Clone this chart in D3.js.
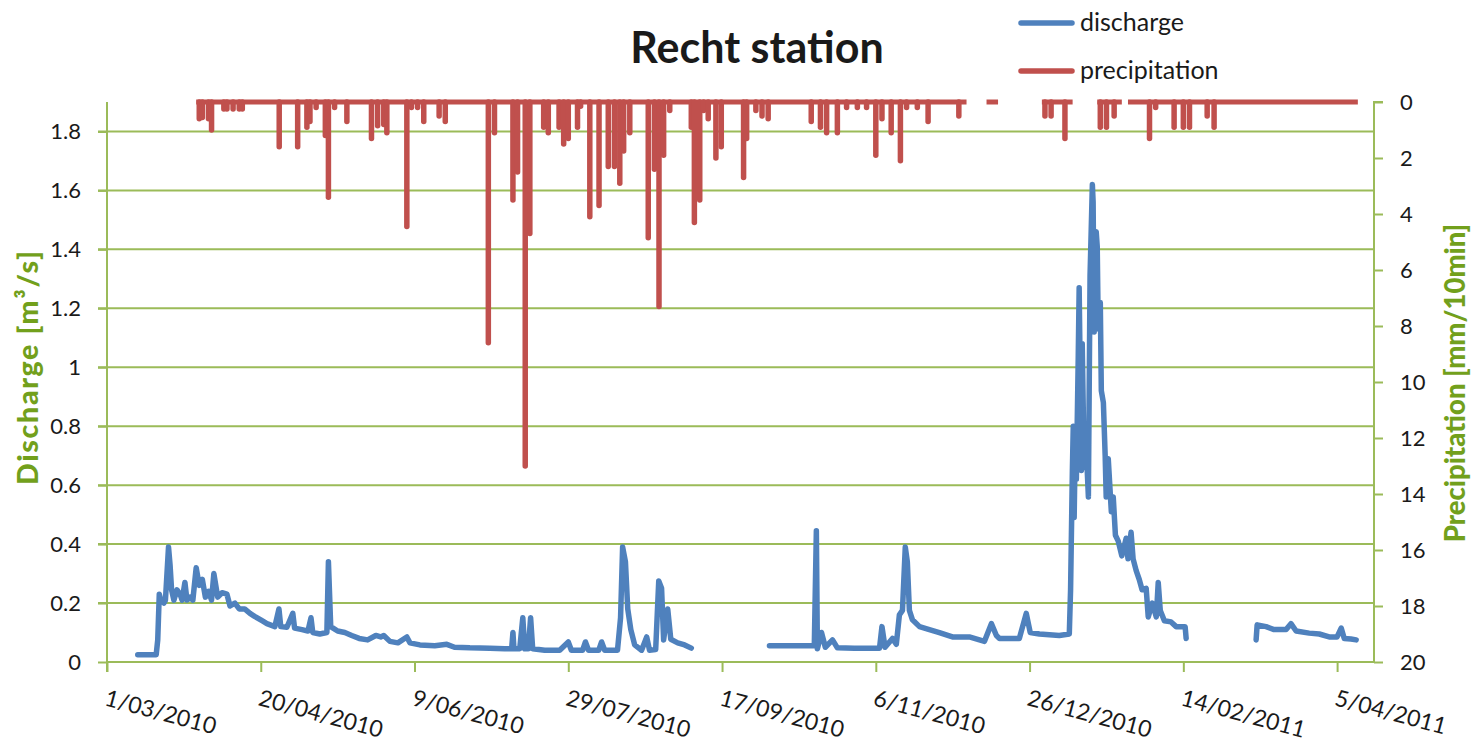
<!DOCTYPE html>
<html><head><meta charset="utf-8">
<script src="https://cdn.jsdelivr.net/npm/d3@7"></script>
<style>body{margin:0;background:#fff} svg{display:block}</style>
</head><body>
<svg id="chart" width="1477" height="743"></svg>
<script>
// ---------- data ----------
const chartTitle = "Recht station";
const dischargeLabel = "discharge";
const precipLabel = "precipitation";
const leftAxisTitle = "Discharge [m³/s]";
const rightAxisTitle = "Precipitation [mm/10min]";

const xTickDates  = ["2010-03-01","2010-04-20","2010-06-09","2010-07-29","2010-09-17","2010-11-06","2010-12-26","2011-02-14","2011-04-05"];
const xTickLabels = ["1/03/2010","20/04/2010","9/06/2010","29/07/2010","17/09/2010","6/11/2010","26/12/2010","14/02/2011","5/04/2011"];
const dischargeTicks = [0,0.2,0.4,0.6,0.8,1,1.2,1.4,1.6,1.8];
const dischargeTickLabels = ["0","0.2","0.4","0.6","0.8","1","1.2","1.4","1.6","1.8"];
const precipTicks = [0,2,4,6,8,10,12,14,16,18,20];

// discharge [m3/s], three recorded periods
const dischargeSeg1 = [
["2010-03-11",0.025],["2010-03-17",0.025],["2010-03-17T12:00",0.075],["2010-03-18",0.23],["2010-03-18T12:00",0.21],
["2010-03-19T12:00",0.2],["2010-03-20",0.21],["2010-03-21",0.39],["2010-03-21T12:00",0.33],["2010-03-22",0.245],
["2010-03-22T18:00",0.21],["2010-03-23T18:00",0.245],["2010-03-24T18:00",0.23],["2010-03-25T10:00",0.21],["2010-03-26T08:00",0.27],
["2010-03-27",0.21],["2010-03-28",0.22],["2010-03-28T22:00",0.21],["2010-03-30",0.32],["2010-03-31",0.26],
["2010-04-01",0.28],["2010-04-02",0.22],["2010-04-03",0.24],["2010-04-04",0.21],["2010-04-04T18:00",0.3],
["2010-04-06",0.22],["2010-04-07T10:00",0.235],["2010-04-09",0.23],["2010-04-10",0.19],["2010-04-11T14:00",0.2],
["2010-04-13",0.18],["2010-04-14T18:00",0.18],["2010-04-16T12:00",0.165],["2010-04-18",0.155],["2010-04-20T10:00",0.14],
["2010-04-22",0.13],["2010-04-24T14:00",0.12],["2010-04-25T22:00",0.18],["2010-04-26T12:00",0.12],["2010-04-28T12:00",0.118],
["2010-04-30T10:00",0.165],["2010-05-01",0.115],["2010-05-03T10:00",0.11],["2010-05-05T08:00",0.105],["2010-05-06T08:00",0.15],
["2010-05-06T22:00",0.1],["2010-05-09T05:00",0.095],["2010-05-11T12:00",0.1],["2010-05-12",0.34],["2010-05-12T18:00",0.12],
["2010-05-15",0.105],["2010-05-17T08:00",0.1],["2010-05-19T14:00",0.09],["2010-05-22",0.08],["2010-05-24T18:00",0.075],
["2010-05-27T10:00",0.09],["2010-05-29",0.085],["2010-05-30",0.09],["2010-06-01",0.07],["2010-06-03T14:00",0.065],
["2010-06-06T12:00",0.085],["2010-06-07T12:00",0.065],["2010-06-10T18:00",0.058],["2010-06-15T14:00",0.055],["2010-06-19T12:00",0.06],
["2010-06-22",0.05],["2010-06-27",0.048],["2010-07-03T12:00",0.047],["2010-07-08T08:00",0.045],["2010-07-10T14:00",0.045],
["2010-07-11",0.1],["2010-07-11T08:00",0.045],["2010-07-13T05:00",0.045],["2010-07-14T05:00",0.15],["2010-07-14T20:00",0.045],
["2010-07-16",0.045],["2010-07-16T18:00",0.15],["2010-07-17T10:00",0.045],["2010-07-21T08:00",0.04],["2010-07-26T05:00",0.04],
["2010-07-29",0.068],["2010-07-30",0.04],["2010-08-02T16:00",0.04],["2010-08-03T14:00",0.068],["2010-08-04T14:00",0.04],
["2010-08-07T22:00",0.04],["2010-08-08T20:00",0.068],["2010-08-09T20:00",0.04],["2010-08-14",0.04],["2010-08-15",0.15],
["2010-08-15T16:00",0.39],["2010-08-16T14:00",0.34],["2010-08-17T08:00",0.18],["2010-08-18T08:00",0.11],["2010-08-19T14:00",0.058],
["2010-08-21T20:00",0.04],["2010-08-23T12:00",0.085],["2010-08-24T10:00",0.04],["2010-08-26T10:00",0.042],["2010-08-27T10:00",0.275],
["2010-08-28T08:00",0.25],["2010-08-29",0.075],["2010-08-30T08:00",0.18],["2010-08-31T08:00",0.077],["2010-09-02T14:00",0.065],
["2010-09-04T20:00",0.058],["2010-09-07",0.047]
];
const dischargeSeg2 = [
["2010-10-02T10:00",0.055],["2010-10-17",0.055],["2010-10-17T16:00",0.445],["2010-10-18",0.045],["2010-10-19T08:00",0.1],
["2010-10-20T14:00",0.05],["2010-10-22T22:00",0.075],["2010-10-24T12:00",0.048],["2010-10-30",0.047],["2010-11-07T05:00",0.047],
["2010-11-08",0.12],["2010-11-09",0.05],["2010-11-11T10:00",0.08],["2010-11-12T16:00",0.06],["2010-11-13T16:00",0.16],
["2010-11-14T16:00",0.175],["2010-11-15T14:00",0.39],["2010-11-16T06:00",0.34],["2010-11-16T22:00",0.175],["2010-11-17T22:00",0.143],
["2010-11-20T05:00",0.12],["2010-11-23T10:00",0.11],["2010-11-26T16:00",0.1],["2010-11-30T22:00",0.085],["2010-12-06T10:00",0.085],
["2010-12-11T08:00",0.07],["2010-12-13T14:00",0.13],["2010-12-15T05:00",0.09],["2010-12-16T05:00",0.08],["2010-12-19T10:00",0.08],
["2010-12-22T16:00",0.08],["2010-12-24T22:00",0.165],["2010-12-26T05:00",0.1],["2010-12-29T05:00",0.095],["2011-01-04T16:00",0.09],
["2011-01-07T22:00",0.095],["2011-01-08T08:00",0.245],["2011-01-08T22:00",0.65],["2011-01-09T05:00",0.8],["2011-01-09T12:00",0.49],
["2011-01-09T22:00",0.79],["2011-01-10T05:00",0.62],["2011-01-10T20:00",1.04],["2011-01-11T03:00",1.27],["2011-01-11T20:00",0.65],
["2011-01-12T03:00",1.08],["2011-01-12T18:00",0.66],["2011-01-13T10:00",0.73],["2011-01-14T03:00",0.56],["2011-01-14T16:00",1.31],
["2011-01-15T10:00",1.62],["2011-01-15T16:00",1.56],["2011-01-16",1.12],["2011-01-16T16:00",1.46],["2011-01-17",1.41],
["2011-01-17T08:00",1.13],["2011-01-18",1.22],["2011-01-18T08:00",0.92],["2011-01-19",0.88],["2011-01-19T14:00",0.7],
["2011-01-19T22:00",0.56],["2011-01-20T14:00",0.69],["2011-01-21T14:00",0.51],["2011-01-22T05:00",0.56],["2011-01-22T22:00",0.43],
["2011-01-23T20:00",0.41],["2011-01-25",0.36],["2011-01-26T10:00",0.42],["2011-01-27",0.35],["2011-01-28",0.44],
["2011-01-28T16:00",0.35],["2011-01-29T16:00",0.31],["2011-01-30T16:00",0.28],["2011-01-31T14:00",0.245],["2011-02-01T22:00",0.25],
["2011-02-02T14:00",0.153],["2011-02-03T22:00",0.2],["2011-02-05T05:00",0.153],["2011-02-05T20:00",0.27],["2011-02-06T12:00",0.175],
["2011-02-07T20:00",0.14],["2011-02-10",0.136],["2011-02-11T16:00",0.12],["2011-02-14T14:00",0.12],["2011-02-14T22:00",0.08]
];
const dischargeSeg3 = [
["2011-03-09T16:00",0.075],["2011-03-10",0.126],["2011-03-12T22:00",0.12],["2011-03-15T12:00",0.11],["2011-03-19T10:00",0.11],
["2011-03-21",0.13],["2011-03-22T16:00",0.105],["2011-03-26T22:00",0.098],["2011-03-30T05:00",0.095],["2011-04-02T10:00",0.085],
["2011-04-05",0.085],["2011-04-06T08:00",0.115],["2011-04-07T08:00",0.08],["2011-04-09T12:00",0.078],["2011-04-11T05:00",0.075]
];

// precipitation: recorded periods (start, end) and 10-min peaks [mm/10min]
const precipPeriods = [
["2010-03-30","2010-12-05T12:00"],["2010-12-12","2010-12-15T18:00"],["2010-12-30","2011-01-09"],
["2011-01-17","2011-01-25"],["2011-01-27","2011-04-11T18:00"]
];
const precipPeaks = [
["2010-03-31",0.6],["2010-04-01",0.55],["2010-04-03",0.6],["2010-04-04",1.0],["2010-04-08",0.25],["2010-04-09",0.25],
["2010-04-11",0.25],["2010-04-13",0.25],["2010-04-14",0.25],["2010-04-26",1.6],["2010-05-02",1.6],["2010-05-05",0.9],
["2010-05-06",0.7],["2010-05-08",0.2],["2010-05-11",1.2],["2010-05-12",3.4],["2010-05-14",0.2],["2010-05-18",0.7],
["2010-05-26",1.3],["2010-05-28",0.85],["2010-05-30",0.8],["2010-05-31",1.1],["2010-06-06T12:00",4.45],["2010-06-08",0.2],
["2010-06-10",0.2],["2010-06-12",0.7],["2010-06-17",0.5],["2010-06-19",0.7],["2010-07-03",8.6],["2010-07-05",1.1],
["2010-07-11",3.5],["2010-07-12T12:00",2.5],["2010-07-15",13.0],["2010-07-16T12:00",4.7],["2010-07-21",0.9],["2010-07-22T12:00",1.1],
["2010-07-26",0.9],["2010-07-27T12:00",1.5],["2010-07-29",1.3],["2010-08-01",0.9],["2010-08-02",0.15],["2010-08-05",4.1],
["2010-08-08",3.7],["2010-08-11",2.3],["2010-08-13",2.3],["2010-08-14T18:00",2.9],["2010-08-16",1.75],["2010-08-18",1.1],
["2010-08-24",4.85],["2010-08-26",2.4],["2010-08-27T12:00",7.3],["2010-08-29",1.9],["2010-08-31",0.3],["2010-09-07",0.9],
["2010-09-08",4.3],["2010-09-09T18:00",3.5],["2010-09-11",0.3],["2010-09-12T12:00",0.6],["2010-09-15",2.0],["2010-09-16T18:00",1.6],
["2010-09-24",2.7],["2010-09-25",1.3],["2010-09-28",0.3],["2010-09-30",0.5],["2010-10-02",0.6],["2010-10-16",0.7],
["2010-10-19",0.9],["2010-10-21",1.1],["2010-10-24T12:00",1.1],["2010-10-27T12:00",0.2],["2010-10-31",0.2],["2010-11-03",0.2],
["2010-11-06",1.9],["2010-11-08",0.6],["2010-11-11",1.1],["2010-11-14",2.1],["2010-11-16",0.2],["2010-11-19T12:00",0.2],
["2010-11-23",0.7],["2010-12-03",0.5],["2010-12-31",0.5],["2011-01-02",0.5],["2011-01-06T12:00",1.3],["2011-01-18",0.9],
["2011-01-20",0.9],["2011-01-22T12:00",0.5],["2011-02-03",1.3],["2011-02-05",0.2],["2011-02-11",0.9],["2011-02-14",0.9],
["2011-02-16",0.9],["2011-02-21T18:00",0.5],["2011-02-24",0.9]
];

// ---------- drawing ----------
const L = 107, R = 1374, T = 102, B = 662;
const parse = s => new Date(s.length === 10 ? s + "T00:00" : s);
const svg = d3.select("#chart");
const FONT = "Lato, 'Open Sans', sans-serif";
const GRID = "#9bbb59", BLUE = "#4f81bd", RED = "#c0504d", TITLEGREEN = "#72a01c";

const x = d3.scaleTime().domain([parse("2010-03-01"), parse("2011-04-17")]).range([L, R]);
const yQ = d3.scaleLinear().domain([0, 1.9]).range([B, T]);
const yP = d3.scaleLinear().domain([0, 20]).range([T, B]);

// gridlines
svg.append("g").selectAll("line").data(dischargeTicks.filter(d => d > 0)).join("line")
  .attr("x1", L - 9).attr("x2", R).attr("y1", d => yQ(d)).attr("y2", d => yQ(d))
  .attr("stroke", GRID).attr("stroke-width", 2);

// left axis
const gL = svg.append("g").attr("transform", `translate(${L},0)`)
  .call(d3.axisLeft(yQ).tickValues(dischargeTicks).tickFormat((d, i) => dischargeTickLabels[i]).tickSize(9).tickPadding(17));
// right axis
const gR = svg.append("g").attr("transform", `translate(${R},0)`)
  .call(d3.axisRight(yP).tickValues(precipTicks).tickSize(9).tickPadding(17));
// bottom axis
const gB = svg.append("g").attr("transform", `translate(0,${B})`)
  .call(d3.axisBottom(x).tickValues(xTickDates.map(parse)).tickFormat((d, i) => xTickLabels[i]).tickSize(10));

[gL, gR, gB].forEach(g => {
  g.select(".domain").attr("stroke", GRID).attr("stroke-width", 2);
  g.selectAll(".tick line").attr("stroke", GRID).attr("stroke-width", 2);
  g.selectAll("text").attr("font-family", FONT).attr("font-size", 22).attr("fill", "#1a1a1a");
});
gL.select(".domain").attr("d", `M0,${B + 10}V${T}`);
gR.select(".domain").attr("d", `M9,${T}H0V${B}`);
gB.select(".domain").attr("d", `M${L},0H${R}`);
gB.selectAll(".tick text")
  .attr("font-size", 23)
  .attr("text-anchor", "start").attr("dy", null).attr("y", null)
  .attr("transform", "translate(-4,43) rotate(15)");

// discharge
const qLine = d3.line().x(d => x(parse(d[0]))).y(d => yQ(d[1])).curve(d3.curveLinear);
[dischargeSeg1, dischargeSeg2, dischargeSeg3].forEach(seg => {
  svg.append("path").attr("d", qLine(seg)).attr("fill", "none")
    .attr("stroke", BLUE).attr("stroke-width", 5.5).attr("stroke-linejoin", "round").attr("stroke-linecap", "round");
});

// precipitation (inverted axis): baseline for recorded periods + peaks
svg.append("g").selectAll("line").data(precipPeriods).join("line")
  .attr("x1", d => x(parse(d[0]))).attr("x2", d => x(parse(d[1])))
  .attr("y1", yP(0)).attr("y2", yP(0))
  .attr("stroke", RED).attr("stroke-width", 5);
svg.append("g").selectAll("line").data(precipPeaks).join("line")
  .attr("x1", d => x(parse(d[0]))).attr("x2", d => x(parse(d[0])))
  .attr("y1", yP(0)).attr("y2", d => yP(d[1]))
  .attr("stroke", RED).attr("stroke-width", 5.5).attr("stroke-linecap", "round");

// title
svg.append("text").attr("x", 757).attr("y", 63).attr("text-anchor", "middle")
  .attr("font-family", FONT).attr("font-weight", "bold").attr("font-size", 43).attr("fill", "#1a1a1a")
  .text(chartTitle);

// axis titles
svg.append("text").attr("transform", "translate(38,368) rotate(-90)").attr("text-anchor", "middle")
  .attr("font-family", FONT).attr("font-weight", 900).attr("font-size", 28.5).attr("fill", TITLEGREEN)
  .attr("textLength", 234).attr("lengthAdjust", "spacing")
  .text(leftAxisTitle);
svg.append("text").attr("transform", "translate(1465,383) rotate(-90)").attr("text-anchor", "middle")
  .attr("font-family", FONT).attr("font-weight", 900).attr("font-size", 27.5).attr("fill", TITLEGREEN)
  .text(rightAxisTitle);

// legend
const legend = [[dischargeLabel, BLUE, 23], [precipLabel, RED, 71]];
legend.forEach(([label, col, yy]) => {
  svg.append("line").attr("x1", 1021).attr("x2", 1072).attr("y1", yy).attr("y2", yy)
    .attr("stroke", col).attr("stroke-width", 5.5).attr("stroke-linecap", "round");
  svg.append("text").attr("x", 1080).attr("y", yy + 8).attr("font-family", FONT).attr("font-size", 25)
    .attr("fill", "#1a1a1a").text(label);
});
</script>
</body></html>
